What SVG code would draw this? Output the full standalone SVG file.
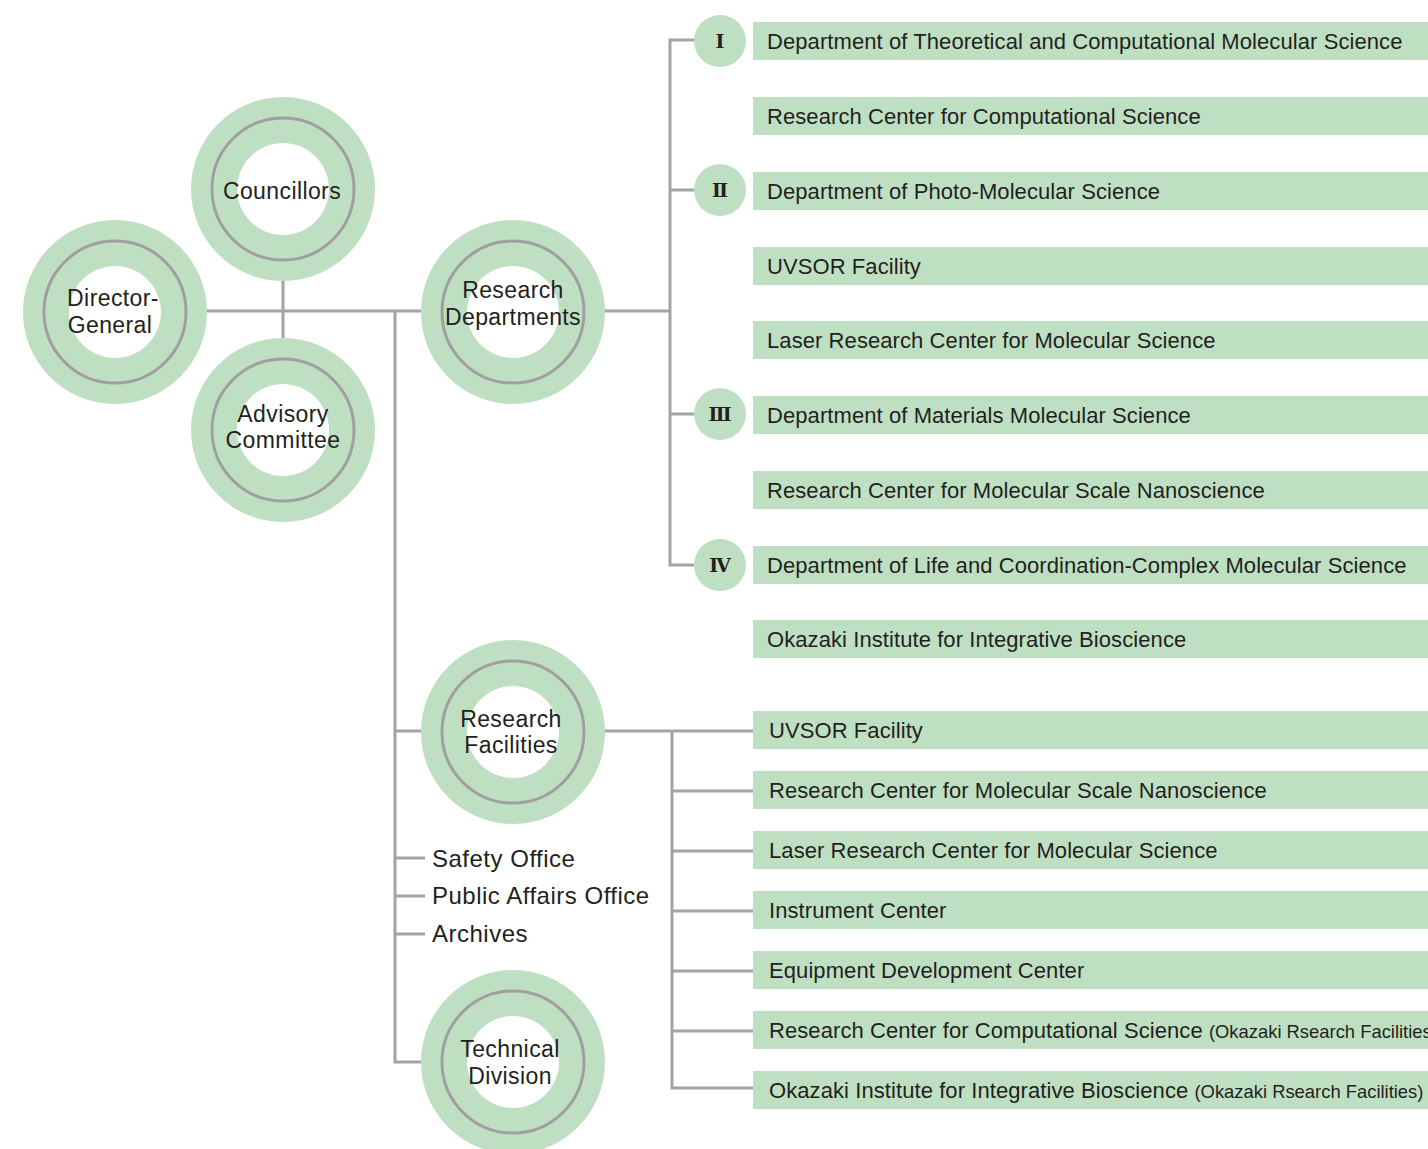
<svg xmlns="http://www.w3.org/2000/svg" width="1428" height="1149" viewBox="0 0 1428 1149">
<defs>
<style>
.ring{fill:#bfdfc3}
.hole{fill:#fff}
.inner{fill:none;stroke:#a09fa0;stroke-width:3}
.lbl{font-family:"Liberation Sans",Arial,sans-serif;font-size:23px;letter-spacing:0.4px;fill:#231f20;text-anchor:middle}
.bar{fill:#bfdfc3}
.bt{font-family:"Liberation Sans",Arial,sans-serif;font-size:22px;letter-spacing:0.08px;fill:#231f20}
.sm{font-size:18.4px;letter-spacing:0}
.off{font-family:"Liberation Sans",Arial,sans-serif;font-size:24px;letter-spacing:0.5px;fill:#231f20}
.rom{fill:#bfdfc3}
.rt{font-family:"DejaVu Serif","Liberation Serif",serif;font-size:19px;font-weight:bold;fill:#231f20;text-anchor:middle}
.ln{fill:none;stroke:#a3a3a3;stroke-width:3}
</style>
<g id="donut">
<circle r="92" class="ring"/>
<circle r="46" class="hole"/>
<circle r="71" class="inner"/>
</g>
</defs>
<g id="connectors">
<path class="ln" d="M207 311H421M283 281V338M395 311V1062H421M395 731H421M395 858H425M395 896H425M395 934H425"/>
<path class="ln" d="M605 311H670M695 40H670V565H695M670 190H695M670 414H695"/>
<path class="ln" d="M605 731H753M672 731V1088H753M672 791H753M672 851H753M672 911H753M672 971H753M672 1031H753"/>
</g>
<g id="director-general"><use href="#donut" x="115" y="312"/><text class="lbl" x="113" y="306">Director-</text><text class="lbl" x="110" y="333">General</text></g>
<g id="councillors"><use href="#donut" x="283" y="189"/><text class="lbl" x="282" y="199">Councillors</text></g>
<g id="advisory-committee"><use href="#donut" x="283" y="430"/><text class="lbl" x="283" y="422">Advisory</text><text class="lbl" x="283" y="448">Committee</text></g>
<g id="research-departments"><use href="#donut" x="513" y="312"/><text class="lbl" x="513" y="298">Research</text><text class="lbl" x="513" y="325">Departments</text></g>
<g id="research-facilities"><use href="#donut" x="513" y="732"/><text class="lbl" x="511" y="727">Research</text><text class="lbl" x="511" y="753">Facilities</text></g>
<g id="technical-division"><use href="#donut" x="513" y="1062"/><text class="lbl" x="510" y="1057">Technical</text><text class="lbl" x="510" y="1084">Division</text></g>
<g id="offices">
<text class="off" x="432" y="867">Safety Office</text>
<text class="off" x="432" y="904">Public Affairs Office</text>
<text class="off" x="432" y="942">Archives</text>
</g>
<g id="roman-1"><circle class="rom" cx="720" cy="41" r="26"/><text class="rt" x="720" y="48">Ⅰ</text></g>
<g id="roman-2"><circle class="rom" cx="720" cy="190" r="26"/><text class="rt" x="720" y="197">Ⅱ</text></g>
<g id="roman-3"><circle class="rom" cx="720" cy="414" r="26"/><text class="rt" x="720" y="421">Ⅲ</text></g>
<g id="roman-4"><circle class="rom" cx="720" cy="565" r="26"/><text class="rt" x="720" y="572">Ⅳ</text></g>
<g id="dept-bars">
<g id="b1"><rect class="bar" x="753" y="22" width="675" height="38"/><text class="bt" x="767" y="49">Department of Theoretical and Computational Molecular Science</text></g>
<g id="b2"><rect class="bar" x="753" y="97" width="675" height="38"/><text class="bt" x="767" y="124">Research Center for Computational Science</text></g>
<g id="b3"><rect class="bar" x="753" y="172" width="675" height="38"/><text class="bt" x="767" y="199">Department of Photo-Molecular Science</text></g>
<g id="b4"><rect class="bar" x="753" y="247" width="675" height="38"/><text class="bt" x="767" y="274">UVSOR Facility</text></g>
<g id="b5"><rect class="bar" x="753" y="321" width="675" height="38"/><text class="bt" x="767" y="348">Laser Research Center for Molecular Science</text></g>
<g id="b6"><rect class="bar" x="753" y="396" width="675" height="38"/><text class="bt" x="767" y="423">Department of Materials Molecular Science</text></g>
<g id="b7"><rect class="bar" x="753" y="471" width="675" height="38"/><text class="bt" x="767" y="498">Research Center for Molecular Scale Nanoscience</text></g>
<g id="b8"><rect class="bar" x="753" y="546" width="675" height="38"/><text class="bt" x="767" y="573">Department of Life and Coordination-Complex Molecular Science</text></g>
<g id="b9"><rect class="bar" x="753" y="620" width="675" height="38"/><text class="bt" x="767" y="647">Okazaki Institute for Integrative Bioscience</text></g>
</g>
<g id="facility-bars">
<g id="f1"><rect class="bar" x="753" y="711" width="675" height="38"/><text class="bt" x="769" y="738">UVSOR Facility</text></g>
<g id="f2"><rect class="bar" x="753" y="771" width="675" height="38"/><text class="bt" x="769" y="798">Research Center for Molecular Scale Nanoscience</text></g>
<g id="f3"><rect class="bar" x="753" y="831" width="675" height="38"/><text class="bt" x="769" y="858">Laser Research Center for Molecular Science</text></g>
<g id="f4"><rect class="bar" x="753" y="891" width="675" height="38"/><text class="bt" x="769" y="918">Instrument Center</text></g>
<g id="f5"><rect class="bar" x="753" y="951" width="675" height="38"/><text class="bt" x="769" y="978">Equipment Development Center</text></g>
<g id="f6"><rect class="bar" x="753" y="1011" width="675" height="38"/><text class="bt" x="769" y="1038">Research Center for Computational Science <tspan class="sm">(Okazaki Rsearch Facilities)</tspan></text></g>
<g id="f7"><rect class="bar" x="753" y="1071" width="675" height="38"/><text class="bt" x="769" y="1098">Okazaki Institute for Integrative Bioscience <tspan class="sm">(Okazaki Rsearch Facilities)</tspan></text></g>
</g>
</svg>
